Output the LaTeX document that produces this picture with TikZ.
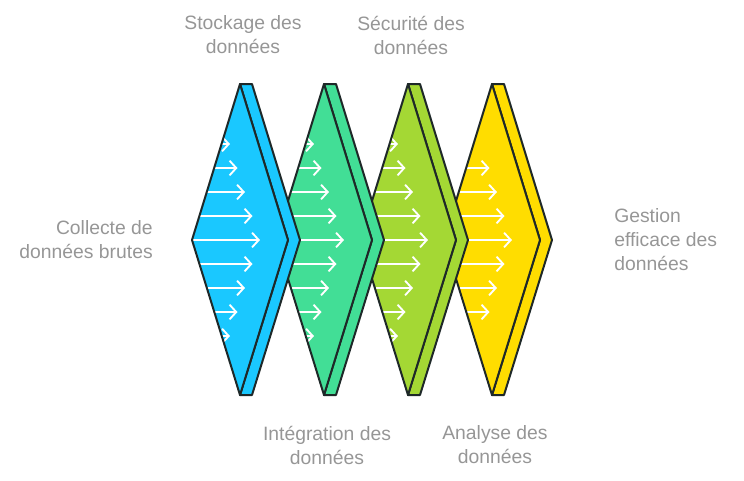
\documentclass[tikz,border=0pt]{standalone}
\usepackage{fontspec}
\setmainfont{Liberation Sans}
\usetikzlibrary{arrows.meta}
\definecolor{cblue}{RGB}{26,200,255}
\definecolor{cgreen}{RGB}{66,222,150}
\definecolor{clime}{RGB}{164,216,52}
\definecolor{cyellow}{RGB}{255,221,0}
\definecolor{outl}{RGB}{30,40,40}
\definecolor{txt}{RGB}{150,150,150}
\tikzset{
  shell/.style={draw=outl, line width=1.5pt, line join=round},
  flow/.style={draw=white, line width=1.4pt, -{Straight Barb[length=5pt,width=11pt,line width=1.4pt]}},
  lbl/.style={text=txt, font=\fontsize{14.5}{18}\selectfont, inner sep=0pt}
}
\begin{document}
\begin{tikzpicture}[x=0.75pt,y=-0.75pt]
\useasboundingbox (0,0) rectangle (744,480);
% diamonds, drawn right to left so the left ones lie on top
\foreach \cx/\col/\kmin/\kmax in {492/cyellow/-3/3, 408/clime/-4/4, 324/cgreen/-4/4, 240/cblue/-4/4}{
  \path[shell, fill=\col] (\cx,84) -- (\cx+12,84) -- (\cx+60,240) -- (\cx+12,395) -- (\cx,395) -- (\cx+48,240) -- cycle;
  \path[fill=\col] (\cx,84) -- (\cx+48,240) -- (\cx,395) -- (\cx-48,240) -- cycle;
  \begin{scope}
    \clip (\cx,84) -- (\cx+48,240) -- (\cx,395) -- (\cx-48,240) -- cycle;
    \foreach \k in {\kmin,...,\kmax}{
      \pgfmathsetmacro{\tip}{\cx+20-7.5*abs(\k)}
      \draw[flow] (\cx-70,240+24*\k) -- (\tip,240+24*\k);
    }
  \end{scope}
  \path[shell] (\cx,84) -- (\cx+48,240) -- (\cx,395) -- (\cx-48,240) -- cycle;
}
% labels
\node[lbl, align=right, anchor=east] (collecte) at (153,240) {Collecte de\\données brutes};
\node[lbl, align=center] (stockage) at (243,35) {Stockage des\\données};
\node[lbl, align=center] (securite) at (411,35) {Sécurité des\\données};
\node[lbl, align=center] (integration) at (327,445) {Intégration des\\données};
\node[lbl, align=center] (analyse) at (495,445) {Analyse des\\données};
\node[lbl, align=left, anchor=west] (gestion) at (614,240) {Gestion\\efficace des\\données};
\end{tikzpicture}
\end{document}
